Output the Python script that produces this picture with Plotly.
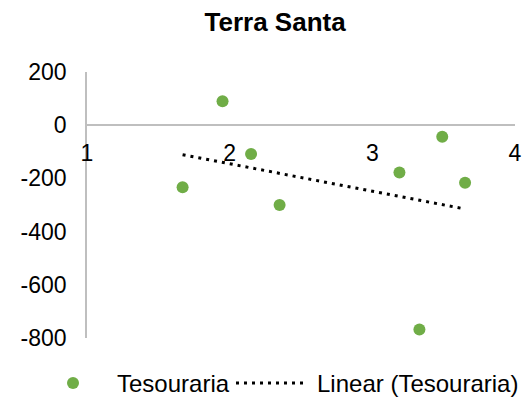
import numpy as np
import plotly.graph_objects as go

# Terra Santa – treasury values per period index
x_vals = [1.67, 1.95, 2.15, 2.35, 3.19, 3.33, 3.49, 3.65]
y_vals = [-233, 90, -108, -300, -178, -768, -43, -216]
series_name = "Tesouraria"
trend_name = "Linear (Tesouraria)"
x_ticks = [1, 2, 3, 4]
y_ticks = [-800, -600, -400, -200, 0, 200]

FONT = "Liberation Sans, Arial, sans-serif"
GREEN = "#70AD47"
AXIS = "#BFBFBF"
DOTS = "3px,5px"

W, H = 529, 401
ML, MR, MT, MB = 87, 14, 72, 63
PW, PH = W - ML - MR, H - MT - MB


def px_x(px):
    """Pixel column -> paper x (relative to the plot area)."""
    return (px - ML) / PW


def px_y(py):
    """Pixel row -> paper y (relative to the plot area)."""
    return (H - MB - py) / PH


# least-squares linear trend over the observed x span
slope, intercept = np.polyfit(x_vals, y_vals, 1)
trend_x = [min(x_vals), max(x_vals)]
trend_y = [slope * v + intercept for v in trend_x]

fig = go.Figure()
fig.add_trace(go.Scatter(
    x=x_vals, y=y_vals, mode="markers", name=series_name,
    marker=dict(color=GREEN, size=12), showlegend=False,
))
fig.add_trace(go.Scatter(
    x=trend_x, y=trend_y, mode="lines", name=trend_name,
    line=dict(color="#000000", width=3, dash=DOTS), showlegend=False,
))

# legend row below the plot: marker, label, dotted sample, label
leg_y = 383
fig.add_shape(type="circle", xref="paper", yref="paper",
              x0=px_x(67), x1=px_x(79), y0=px_y(leg_y + 6), y1=px_y(leg_y - 6),
              fillcolor=GREEN, line=dict(width=0))
fig.add_shape(type="line", xref="paper", yref="paper",
              x0=px_x(236), x1=px_x(306), y0=px_y(leg_y), y1=px_y(leg_y),
              line=dict(color="#000000", width=3, dash=DOTS))
for label, left in [(series_name, 115), (trend_name, 315)]:
    fig.add_annotation(text=label, xref="paper", yref="paper",
                       x=px_x(left), y=px_y(leg_y), xanchor="left", yanchor="middle",
                       showarrow=False, font=dict(family=FONT, size=24, color="#000000"))

fig.update_layout(
    width=W, height=H,
    margin=dict(l=ML, r=MR, t=MT, b=MB, autoexpand=False),
    paper_bgcolor="white", plot_bgcolor="white",
    font=dict(family=FONT, size=23, color="#000000"),
    title=dict(
        text="<b>Terra Santa</b>", x=0.52, xanchor="center",
        y=0.945, yanchor="middle",
        font=dict(family=FONT, size=26, color="#000000"),
    ),
    showlegend=False,
    xaxis=dict(
        range=[1, 4], tickvals=x_ticks, ticktext=[str(v) for v in x_ticks],
        showgrid=False, zeroline=False, showline=True,
        linecolor=AXIS, linewidth=1.5, ticks="",
        anchor="free", position=0.8, ticklabelstandoff=7,
    ),
    yaxis=dict(
        range=[-800, 200], tickvals=y_ticks, ticktext=[str(v) for v in y_ticks],
        showgrid=False, zeroline=False, showline=True,
        linecolor=AXIS, linewidth=1.5, ticks="", ticklabelstandoff=14,
    ),
)

fig.write_html("out.html")
